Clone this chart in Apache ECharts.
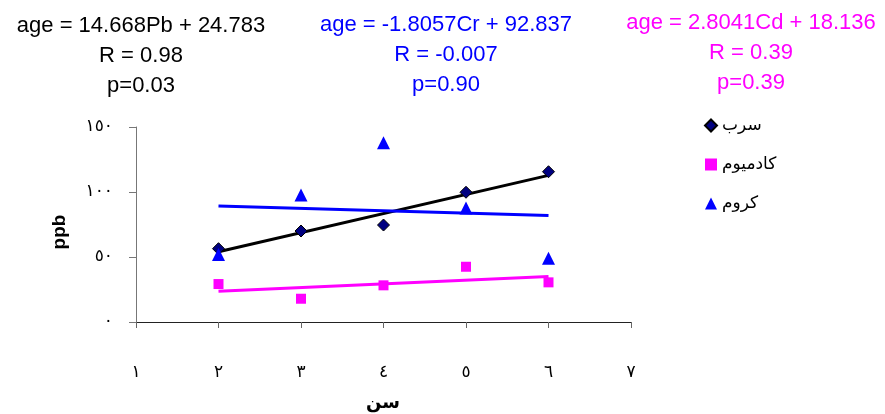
<!DOCTYPE html>
<html>
<head>
<meta charset="utf-8">
<script src="https://cdn.jsdelivr.net/npm/echarts@6/dist/echarts.min.js"></script>
<style>html,body{margin:0;padding:0;background:#fff}#c{width:885px;height:414px}</style>
</head>
<body>
<div id="c"></div>
<script>
// ---- data ----
const ages = [2, 3, 4, 5, 6];
const pbValues = [56.4, 70, 74.6, 99.8, 115.6];
const cdValues = [29.2, 17.9, 28.2, 42.5, 30.5];
const crValues = [52, 97.7, 137.9, 87.7, 49];
const trendX = [2, 6];
const pbTrend = [54.1, 112.8];
const cdTrend = [23.7, 35.0];
const crTrend = [89.2, 82.0];
const seriesNames = ['سرب', 'كادميوم', 'كروم'];
const xTickLabels = ['١', '٢', '٣', '٤', '٥', '٦', '٧'];
const yTickLabels = ['٠', '٥٠', '١٠٠', '١٥٠'];
const xAxisTitle = 'سن';
const yAxisTitle = 'ppb';
const pbText = ['age = 14.668Pb + 24.783', 'R = 0.98', 'p=0.03'];
const crText = ['age = -1.8057Cr + 92.837', 'R = -0.007', 'p=0.90'];
const cdText = ['age = 2.8041Cd + 18.136', 'R = 0.39', 'p=0.39'];

const pair = (xs, ys) => xs.map((x, i) => [x, ys[i]]);
const ARFONT = "'DejaVu Sans', sans-serif";
const LATFONT = "'Liberation Sans', Arial, sans-serif";

function textBlock(lines, cx, y0, color) {
  return lines.map((t, i) => ({
    type: 'text', x: cx, y: y0 + i * 30,
    style: { text: t, fill: color, font: '22px ' + LATFONT, textAlign: 'center', textVerticalAlign: 'middle' }
  }));
}

const chart = echarts.init(document.getElementById('c'), null, { renderer: 'canvas' });
chart.setOption({
  animation: false,
  backgroundColor: '#fff',
  grid: { left: 136, right: 254, top: 127, bottom: 92, containLabel: false },
  xAxis: {
    type: 'value', min: 1, max: 7, interval: 1,
    axisLine: { show: true, onZero: false, lineStyle: { color: '#222', width: 1 } },
    axisTick: { show: true, length: 6, lineStyle: { color: '#666' } },
    splitLine: { show: false },
    axisLabel: { margin: 42, fontSize: 17, color: '#000', fontFamily: ARFONT,
      formatter: v => xTickLabels[Math.round(v) - 1] }
  },
  yAxis: {
    type: 'value', min: 0, max: 150, interval: 50,
    axisLine: { show: true, lineStyle: { color: '#777', width: 1 } },
    axisTick: { show: true, length: 7, lineStyle: { color: '#777' } },
    splitLine: { show: false },
    axisLabel: { margin: 23, fontSize: 17, color: '#000', fontFamily: ARFONT,
      formatter: v => yTickLabels[Math.round(v / 50)] }
  },
  legend: {
    orient: 'vertical', left: 699, top: 112, itemGap: 22,
    itemWidth: 12, itemHeight: 12,
    data: seriesNames,
    textStyle: { fontSize: 17, color: '#000', fontFamily: ARFONT }
  },
  series: [
    { name: seriesNames[0], type: 'scatter', symbol: 'diamond', symbolSize: 12,
      itemStyle: { color: '#000080', borderColor: '#000', borderWidth: 1, opacity: 1 }, data: pair(ages, pbValues), z: 5 },
    { name: seriesNames[1], type: 'scatter', symbol: 'rect', symbolSize: 10,
      itemStyle: { color: '#FF00FF', opacity: 1 }, data: pair(ages, cdValues), z: 5 },
    { name: seriesNames[2], type: 'scatter', symbol: 'triangle', symbolSize: 13,
      itemStyle: { color: '#0000FF', opacity: 1 }, data: pair(ages, crValues), z: 5 },
    { type: 'line', data: pair(trendX, pbTrend), showSymbol: false, symbol: 'none',
      lineStyle: { color: '#000', width: 3 }, z: 3, silent: true },
    { type: 'line', data: pair(trendX, cdTrend), showSymbol: false, symbol: 'none',
      lineStyle: { color: '#FF00FF', width: 3 }, z: 3, silent: true },
    { type: 'line', data: pair(trendX, crTrend), showSymbol: false, symbol: 'none',
      lineStyle: { color: '#0000FF', width: 3 }, z: 3, silent: true }
  ],
  graphic: [
    ...textBlock(pbText, 141, 26, '#000'),
    ...textBlock(crText, 446, 25, '#0000FF'),
    ...textBlock(cdText, 751, 23, '#FF00FF'),
    { type: 'text', x: 60, y: 232, rotation: Math.PI / 2,
      style: { text: yAxisTitle, fill: '#000', font: 'bold 19px ' + LATFONT, textAlign: 'center', textVerticalAlign: 'middle' } },
    { type: 'text', x: 383, y: 403,
      style: { text: xAxisTitle, fill: '#000', font: 'bold 18px ' + ARFONT, textAlign: 'center', textVerticalAlign: 'middle' } }
  ]
});
</script>
</body>
</html>
